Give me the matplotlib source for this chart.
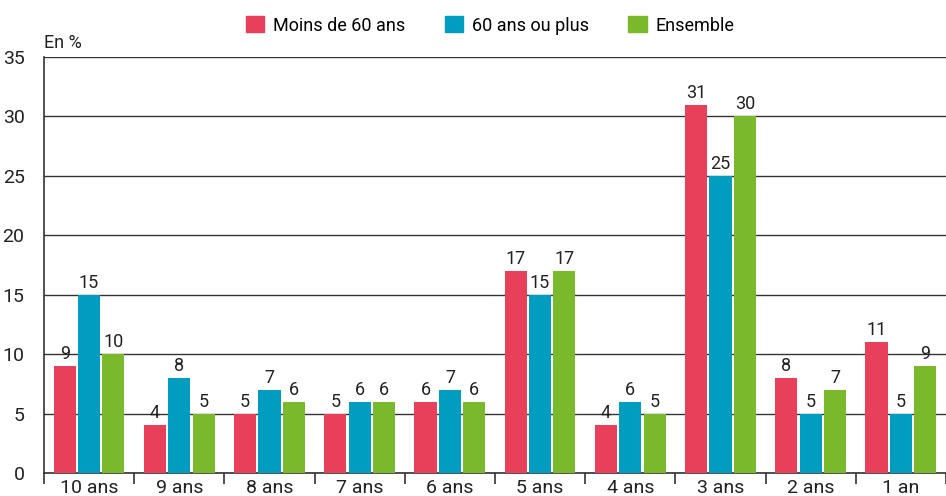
import numpy as np
import matplotlib
matplotlib.use('Agg')
import matplotlib.pyplot as plt
from matplotlib.patches import Patch

categories = ['10 ans', '9 ans', '8 ans', '7 ans', '6 ans', '5 ans', '4 ans', '3 ans', '2 ans', '1 an']
moins_60 = [9, 4, 5, 5, 6, 17, 4, 31, 8, 11]
plus_60 = [15, 8, 7, 6, 7, 15, 6, 25, 5, 5]
ensemble = [10, 5, 6, 6, 6, 17, 5, 30, 7, 9]
series_labels = ['Moins de 60 ans', '60 ans ou plus', 'Ensemble']
colors = ['#e8405a', '#009dc0', '#7ab82c']

plt.rcParams['font.family'] = ['Roboto', 'DejaVu Sans']

fig = plt.figure(figsize=(9.46, 4.96), dpi=100)
ax = fig.add_axes([0.0465, 0.0464, 0.9535, 0.8386])

x = np.arange(len(categories))
width = 0.245
step = 0.27
for i, vals in enumerate([moins_60, plus_60, ensemble]):
    pos = x + (i - 1) * step
    bars = ax.bar(pos, vals, width=width, color=colors[i], zorder=3)
    for b, v in zip(bars, vals):
        ax.text(b.get_x() + b.get_width() / 2, v + 0.25, str(v),
                ha='center', va='bottom', fontsize=13, color='#222222', zorder=4)

ax.set_xlim(-0.5, len(categories) - 0.5)
ax.set_ylim(0, 35)
ax.set_yticks(range(0, 36, 5))
ax.tick_params(axis='y', length=0, pad=14, labelsize=14, colors='#222222')

ax.set_xticks(x)
ax.set_xticklabels(categories)
ax.set_xticks(np.arange(-0.5, len(categories), 1), minor=True)
ax.tick_params(axis='x', which='major', length=0, pad=4, labelsize=14, colors='#222222')
ax.tick_params(axis='x', which='minor', length=8, width=1.2, color='#333333')

ax.grid(True, axis='y', color='#333333', linewidth=1, zorder=0)
for side in ['top', 'right']:
    ax.spines[side].set_visible(False)
ax.spines['left'].set_color('#333333')
ax.spines['bottom'].set_color('#333333')
ax.spines['left'].set_linewidth(1.2)
ax.spines['bottom'].set_linewidth(1.2)

fig.text(0.046, 0.895, 'En %', ha='left', va='bottom', fontsize=13, color='#222222')

handles = [Patch(color=c, label=l) for c, l in zip(colors, series_labels)]
fig.legend(handles=handles, loc='upper center', bbox_to_anchor=(0.518, 1.0), ncol=3,
           frameon=False, fontsize=13, handlelength=1.0, handleheight=1.0,
           handletextpad=0.5, columnspacing=2.2)

fig.savefig('out.png', dpi=100)
